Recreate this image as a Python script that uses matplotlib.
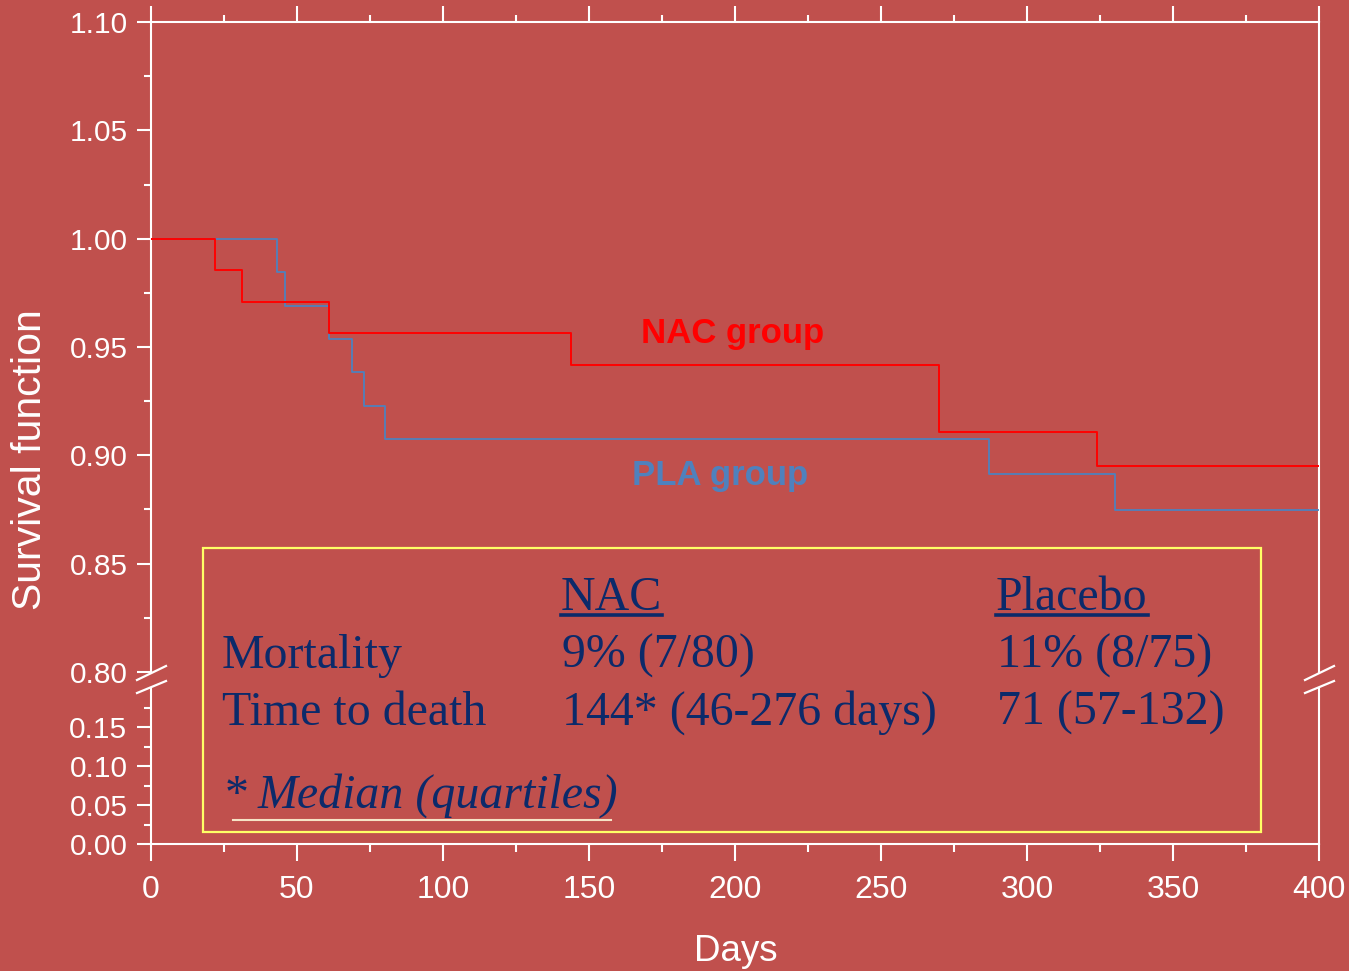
import matplotlib
matplotlib.use('Agg')
import matplotlib.pyplot as plt
from matplotlib.lines import Line2D
from matplotlib.patches import Rectangle

# ---------------- data ----------------
nac_days = [0, 22, 31, 61, 144, 270, 324, 400]
nac_surv = [1.0, 0.9854, 0.9709, 0.9565, 0.9417, 0.9106, 0.8951, 0.8951]
pla_days = [0, 43, 46, 61, 69, 73, 80, 287, 330, 400]
pla_surv = [1.0, 0.9845, 0.9691, 0.9537, 0.9383, 0.9229, 0.9075, 0.8912, 0.8749, 0.8749]

x_major = [0, 50, 100, 150, 200, 250, 300, 350, 400]
x_minor = [25, 75, 125, 175, 225, 275, 325, 375]
y_top_major = [0.80, 0.85, 0.90, 0.95, 1.00, 1.05, 1.10]
y_top_minor = [0.825, 0.875, 0.925, 0.975, 1.025, 1.075]
y_bot_major = [0.00, 0.05, 0.10, 0.15]
y_bot_minor = [0.025, 0.075, 0.125, 0.175]

table_header = ["NAC", "Placebo"]
table_rows = ["Mortality", "Time to death"]
table_nac = ["9% (7/80)", "144* (46-276 days)"]
table_pla = ["11% (8/75)", "71 (57-132)"]
footnote = "Median (quartiles)"

# ---------------- style ----------------
BG = '#C0504D'
RED = '#FF0000'
BLUE = '#4F81BD'
NAVY = '#0C2A6A'
YELLOW = '#FFFF66'
WHITE = 'white'
plt.rcParams['font.family'] = ['Liberation Sans', 'DejaVu Sans']

W, H = 1349, 971
fig = plt.figure(figsize=(W / 100, H / 100), dpi=100, facecolor=BG)


def fx(x):
    return x / W


def fy(y):
    return 1 - y / H


L, R = 151, 1319
ax_top = fig.add_axes([fx(L), fy(672), (R - L) / W, (672 - 22) / H])
ax_bot = fig.add_axes([fx(L), fy(844), (R - L) / W, (844 - 688) / H], sharex=ax_top)

for ax in (ax_top, ax_bot):
    ax.set_facecolor('none')
    for s in ax.spines.values():
        s.set_color(WHITE)
        s.set_linewidth(1.5)

ax_top.spines['bottom'].set_visible(False)
ax_bot.spines['top'].set_visible(False)

ax_top.set_xlim(0, 400)
ax_top.set_ylim(0.80, 1.10)
ax_bot.set_ylim(0.0, 0.20)

# curves
ax_top.step(pla_days, pla_surv, where='post', color=BLUE, lw=1.3, zorder=3)
ax_top.step(nac_days, nac_surv, where='post', color=RED, lw=1.4, zorder=4)

ax_top.text(199, 0.9519, 'NAC group', color=RED, fontsize=25, fontweight='bold',
            ha='center', va='baseline')
ax_top.text(195, 0.8863, 'PLA group', color=BLUE, fontsize=25, fontweight='bold',
            ha='center', va='baseline')

# ticks
ax_top.set_xticks(x_major)
ax_top.set_xticks(x_minor, minor=True)
ax_top.xaxis.set_ticks_position('top')
ax_top.tick_params(axis='x', which='both', direction='out', colors=WHITE,
                   labeltop=False, labelbottom=False, width=1.5)
ax_top.tick_params(axis='x', which='major', length=11.5)
ax_top.tick_params(axis='x', which='minor', length=5)

ax_top.set_yticks(y_top_major)
ax_top.set_yticks(y_top_minor, minor=True)
ax_top.set_yticklabels([f'{v:.2f}' for v in y_top_major])
ax_top.yaxis.set_ticks_position('left')
ax_top.tick_params(axis='y', which='both', direction='out', colors=WHITE,
                   labelcolor=WHITE, labelsize=21.5, width=1.5, pad=7)
ax_top.tick_params(axis='y', which='major', length=10)
ax_top.tick_params(axis='y', which='minor', length=5)

ax_bot.xaxis.set_ticks_position('bottom')
ax_bot.set_xticks(x_major)
ax_bot.set_xticks(x_minor, minor=True)
ax_bot.set_xticklabels([str(v) for v in x_major])
ax_bot.tick_params(axis='x', which='both', direction='out', colors=WHITE,
                   labelcolor=WHITE, labelsize=23, width=1.5, pad=10)
ax_bot.tick_params(axis='x', which='major', length=12)
ax_bot.tick_params(axis='x', which='minor', length=6)

ax_bot.set_yticks(y_bot_major)
ax_bot.set_yticks(y_bot_minor, minor=True)
ax_bot.set_yticklabels([f'{v:.2f}' for v in y_bot_major])
ax_bot.yaxis.set_ticks_position('left')
ax_bot.tick_params(axis='y', which='both', direction='out', colors=WHITE,
                   labelcolor=WHITE, labelsize=21.5, width=1.5, pad=7)
ax_bot.tick_params(axis='y', which='major', length=10)
ax_bot.tick_params(axis='y', which='minor', length=5)

# break marks
for xb in (137, 1305):
    for (y0, y1) in ((680, 666), (693, 681)):
        fig.add_artist(Line2D([fx(xb), fx(xb + 29)], [fy(y0), fy(y1)],
                              transform=fig.transFigure, color=WHITE, lw=1.6))

# axis labels
fig.text(fx(30), fy(460), 'Survival function', rotation=90, ha='center', va='center',
         fontsize=29.5, color=WHITE)
fig.text(fx(736), fy(951), 'Days', ha='center', va='center', fontsize=26.5, color=WHITE)

# table box
fig.add_artist(Rectangle((fx(203), fy(832)), (1261 - 203) / W, (832 - 548) / H,
                         transform=fig.transFigure, fill=False, edgecolor=YELLOW, lw=1.6))

serif = ['Liberation Serif', 'DejaVu Serif']
FS = 34.5
col_x = [561, 996]
hdr_texts = []
for cx, h in zip(col_x, table_header):
    hdr_texts.append(fig.text(fx(cx), fy(610), h, family=serif, fontsize=FS,
                              color=NAVY, va='baseline', ha='left'))
row_y = [668, 725]
for ry, lab, a, b in zip(row_y, table_rows, table_nac, table_pla):
    fig.text(fx(222), fy(ry), lab, family=serif, fontsize=FS, color=NAVY, va='baseline')
    fig.text(fx(col_x[0] + 1), fy(ry), a, family=serif, fontsize=FS, color=NAVY, va='baseline')
    fig.text(fx(col_x[1] + 1), fy(ry), b, family=serif, fontsize=FS, color=NAVY, va='baseline')

fig.text(fx(225), fy(808), '*', family=serif, fontsize=FS, color=NAVY, va='baseline')
foot = fig.text(fx(258), fy(808), footnote, family=serif, fontsize=FS, style='italic',
                color=NAVY, va='baseline')

fig.canvas.draw()
inv = fig.transFigure.inverted()
for t in hdr_texts:
    bb = t.get_window_extent().transformed(inv)
    fig.add_artist(Line2D([bb.x0, bb.x1], [fy(615), fy(615)], transform=fig.transFigure,
                          color=NAVY, lw=2.6))
fig.add_artist(Line2D([fx(233), fx(611)], [fy(820), fy(820)], transform=fig.transFigure,
                      color='#F6E3C6', lw=1.5))

fig.savefig('out.png', dpi=100, facecolor=BG)
